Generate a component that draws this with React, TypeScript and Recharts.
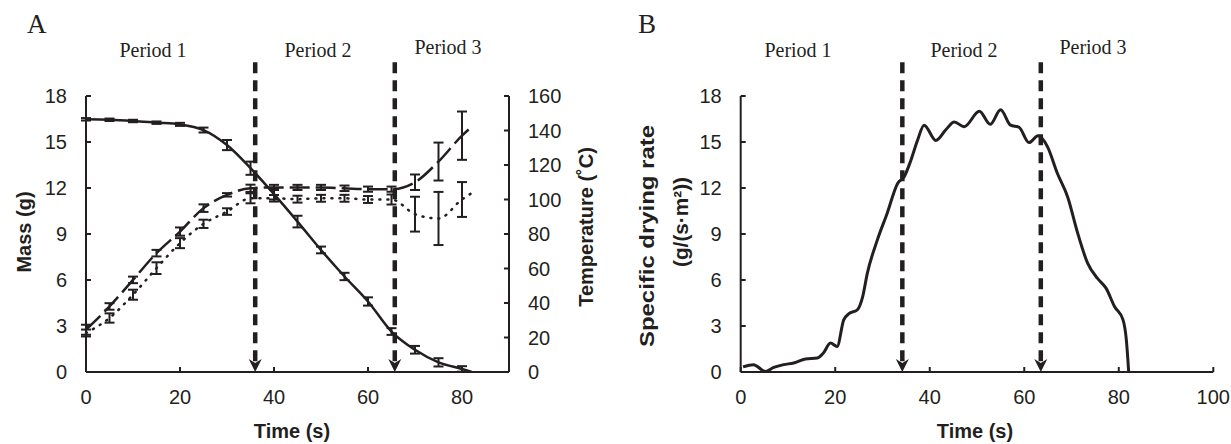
import React from 'react';
import { ComposedChart, Line, XAxis, YAxis, ErrorBar, ReferenceLine } from 'recharts';

const INK = '#231f20';
const SANS = '"Liberation Sans", Arial, sans-serif';
const SERIF = '"Liberation Serif", "Times New Roman", serif';

// ---- Panel A data ----
const timeA = [0, 5, 10, 15, 20, 25, 30, 35, 40, 45, 50, 55, 60, 65, 70, 75, 80, 82];
const massA = [16.48, 16.45, 16.37, 16.26, 16.15, 15.78, 14.8, 13.29, 11.6, 9.81, 7.96, 6.23, 4.6, 2.64, 1.45, 0.63, 0.2, 0.02];
const massErrA = [0.08, 0.08, 0.08, 0.08, 0.1, 0.16, 0.33, 0.43, 0.35, 0.38, 0.22, 0.24, 0.27, 0.22, 0.25, 0.27, 0.18, undefined];
const tempDashedA = [24.5, 38, 53.4, 68.9, 81.4, 95, 102.7, 106.5, 107, 107, 107, 106.5, 106, 106, 110, 122, 137, 142];
const tempDashedErrA = [2.9, 1.9, 1.9, 1.9, 2.4, 2.2, 1.0, 2.1, 1.5, 1.5, 1.5, 1.6, 1.5, 1.5, 4.5, 11, 14, undefined];
const tempDottedA = [22.6, 31.3, 44.8, 60.2, 74.7, 85.9, 93, 100.7, 100.7, 100.2, 100.7, 100.7, 100, 100, 91.5, 89, 100, 103.6];
const tempDottedErrA = [2, 2.7, 2.9, 3.4, 2.9, 2.4, 1.9, 2.9, 1.9, 2, 2, 2, 2, 2.9, 10.1, 15.4, 10.1, undefined];
const periodLinesA = [36, 65.7];
const xTicksA = [0, 20, 40, 60, 80];
const massTicks = [0, 3, 6, 9, 12, 15, 18];
const tempTicks = [0, 20, 40, 60, 80, 100, 120, 140, 160];

// ---- Panel B data ----
const timeB = [0.5, 2.7, 5.2, 7, 9.1, 11.2, 13.7, 16.2, 17.5, 19, 20.4, 21.8, 22.9, 24.7, 25.8, 26.8, 28.9, 31, 33.2, 34.6, 36, 37.4, 38.8, 41.3, 43.4, 45.2, 47.3, 50.5, 52.8, 55, 57.1, 58.9, 61, 62.9, 64.9, 67, 69.2, 71.3, 73.4, 75.5, 77.3, 79.1, 80.9, 81.6, 82.1];
const rateB = [0.33, 0.48, 0.04, 0.3, 0.48, 0.59, 0.85, 0.91, 1.24, 1.89, 1.67, 3.4, 3.8, 4.06, 4.9, 6.45, 8.6, 10.36, 12.3, 12.74, 13.8, 15.1, 16.1, 15.1, 15.8, 16.3, 16.0, 17.0, 16.15, 17.1, 16.1, 15.96, 14.96, 15.4, 14.7, 12.96, 11.4, 9.06, 7.1, 6.1, 5.47, 4.27, 3.4, 2.1, 0];
const periodLinesB = [34.2, 63.5];
const xTicksB = [0, 20, 40, 60, 80, 100];
const rateTicks = [0, 3, 6, 9, 12, 15, 18];

const periodLabels = ['Period 1', 'Period 2', 'Period 3'];

const dataA = timeA.map((t, i) => ({
  t,
  mass: massA[i],
  massErr: massErrA[i],
  tDash: tempDashedA[i],
  tDashErr: tempDashedErrA[i],
  tDot: tempDottedA[i],
  tDotErr: tempDottedErrA[i],
}));
const dataB = timeB.map((t, i) => ({ t, rate: rateB[i] }));

const tickStyle = { fill: INK, fontSize: 20, fontFamily: SANS };
const axisLine = { stroke: INK, strokeWidth: 2 };
const tickLine = { stroke: INK, strokeWidth: 2 };

const ArrowLine = (props: any) => {
  const { x1, y1, x2, y2 } = props;
  const ah = 13;
  const aw = 6.5;
  return (
    <g>
      <line x1={x1} y1={y1} x2={x2} y2={y2 - ah + 3} stroke={INK} strokeWidth={4.5} strokeDasharray="11 7" />
      <path d={`M${x2 - aw},${y2 - ah} L${x2},${y2} L${x2 + aw},${y2 - ah} L${x2},${y2 - ah + 4} Z`} fill={INK} />
    </g>
  );
};

function PanelA() {
  return (
    <ComposedChart width={620} height={444} data={dataA} margin={{ top: 96, right: 0, bottom: 42, left: 0 }}>
      <XAxis dataKey="t" type="number" domain={[0, 90]} ticks={xTicksA} tick={tickStyle} axisLine={axisLine} tickLine={tickLine} tickSize={-5} tickMargin={23} height={30} interval={0} />
      <YAxis yAxisId="left" domain={[0, 18]} ticks={massTicks} tick={tickStyle} axisLine={axisLine} tickLine={tickLine} tickSize={-5} tickMargin={24} width={86} interval={0} />
      <YAxis yAxisId="right" orientation="right" domain={[0, 160]} ticks={tempTicks} tick={{ ...tickStyle, textAnchor: 'start' }} axisLine={axisLine} tickLine={tickLine} tickSize={-5} tickMargin={24} width={111} interval={0} />
      <Line yAxisId="left" dataKey="mass" type="monotone" stroke={INK} strokeWidth={2.5} dot={false} isAnimationActive={false}>
        <ErrorBar dataKey="massErr" width={5} stroke={INK} strokeWidth={2} direction="y" />
      </Line>
      <Line yAxisId="right" dataKey="tDash" type="monotone" stroke={INK} strokeWidth={2.5} strokeDasharray="20 6" dot={false} isAnimationActive={false}>
        <ErrorBar dataKey="tDashErr" width={5} stroke={INK} strokeWidth={2} direction="y" />
      </Line>
      <Line yAxisId="right" dataKey="tDot" type="monotone" stroke={INK} strokeWidth={2.5} strokeDasharray="1 7" strokeLinecap="round" dot={false} isAnimationActive={false}>
        <ErrorBar dataKey="tDotErr" width={5} stroke={INK} strokeWidth={2} direction="y" />
      </Line>
      {periodLinesA.map((x) => (
        <ReferenceLine key={x} yAxisId="left" segment={[{ x, y: 20.2 }, { x, y: 0 }]} ifOverflow="visible" shape={ArrowLine} />
      ))}
    </ComposedChart>
  );
}

function PanelB() {
  return (
    <ComposedChart width={611} height={444} data={dataB} margin={{ top: 96, right: 17.7, bottom: 42, left: 0 }}>
      <XAxis dataKey="t" type="number" domain={[0, 100]} ticks={xTicksB} tick={tickStyle} axisLine={axisLine} tickLine={tickLine} tickSize={-5} tickMargin={23} height={30} interval={0} />
      <YAxis yAxisId="left" domain={[0, 18]} ticks={rateTicks} tick={tickStyle} axisLine={axisLine} tickLine={tickLine} tickSize={-5} tickMargin={24} width={120.7} interval={0} />
      <Line yAxisId="left" dataKey="rate" type="monotone" stroke={INK} strokeWidth={3} dot={false} isAnimationActive={false} />
      {periodLinesB.map((x) => (
        <ReferenceLine key={x} yAxisId="left" segment={[{ x, y: 20.2 }, { x, y: 0 }]} ifOverflow="visible" shape={ArrowLine} />
      ))}
    </ComposedChart>
  );
}

export default function App() {
  const periodXA = [153, 318, 448];
  const periodYA = [57, 57, 54];
  const periodXB = [798, 964, 1093];
  const periodYB = [57, 57, 54];
  return (
    <div style={{ position: 'absolute', left: 0, top: 0, width: 1231, height: 444, background: '#fff', overflow: 'hidden' }}>
      <div style={{ position: 'absolute', left: 0, top: 0 }}>
        <PanelA />
      </div>
      <div style={{ position: 'absolute', left: 620, top: 0 }}>
        <PanelB />
      </div>
      <svg width={1231} height={444} style={{ position: 'absolute', left: 0, top: 0, pointerEvents: 'none' }}>
        <text x={27} y={33} fontFamily={SERIF} fontSize={27} fill={INK}>A</text>
        <text x={638} y={33} fontFamily={SERIF} fontSize={27} fill={INK}>B</text>
        {periodLabels.map((p, i) => (
          <text key={'a' + p} x={periodXA[i]} y={periodYA[i]} textAnchor="middle" fontFamily={SERIF} fontSize={20} fill={INK}>{p}</text>
        ))}
        {periodLabels.map((p, i) => (
          <text key={'b' + p} x={periodXB[i]} y={periodYB[i]} textAnchor="middle" fontFamily={SERIF} fontSize={20} fill={INK}>{p}</text>
        ))}
        <text x={31} y={232} transform="rotate(-90 31 232)" textAnchor="middle" fontFamily={SANS} fontWeight="bold" fontSize={20} fill={INK}>Mass (g)</text>
        <text x={593} y={227} transform="rotate(-90 593 227)" textAnchor="middle" fontFamily={SANS} fontWeight="bold" fontSize={20} fill={INK}>Temperature (˚C)</text>
        <text x={292} y={438} textAnchor="middle" fontFamily={SANS} fontWeight="bold" fontSize={20} fill={INK}>Time (s)</text>
        <text x={975} y={438} textAnchor="middle" fontFamily={SANS} fontWeight="bold" fontSize={20} fill={INK}>Time (s)</text>
        <text x={654} y={236} transform="rotate(-90 654 236)" textAnchor="middle" fontFamily={SANS} fontWeight="bold" fontSize={20} textLength={222} lengthAdjust="spacingAndGlyphs" fill={INK}>Specific drying rate</text>
        <text x={688} y={222} transform="rotate(-90 688 222)" textAnchor="middle" fontFamily={SANS} fontWeight="bold" fontSize={20} textLength={90} lengthAdjust="spacingAndGlyphs" fill={INK}>(g/(s·m²))</text>
      </svg>
    </div>
  );
}
